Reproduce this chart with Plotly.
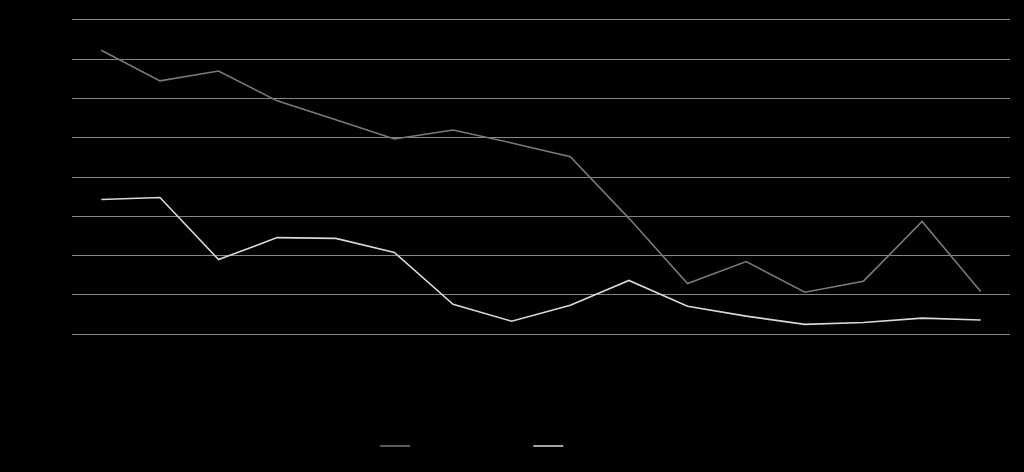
import plotly.graph_objects as go

categories = ["2000", "2001", "2002", "2003", "2004", "2005", "2006", "2007",
              "2008", "2009", "2010", "2011", "2012", "2013", "2014", "2015"]
series_a_name = "Series 1"
series_a = [7.23, 6.45, 6.70, 5.94, 5.46, 4.97, 5.20, 4.87,
            4.52, 2.95, 1.29, 1.85, 1.07, 1.35, 2.87, 1.09]
series_b_name = "Series 2"
series_b = [3.43, 3.48, 1.90, 2.46, 2.44, 2.08, 0.76, 0.33,
            0.74, 1.37, 0.71, 0.46, 0.25, 0.30, 0.41, 0.36]
y_ticks = [0, 1, 2, 3, 4, 5, 6, 7, 8]

fig = go.Figure()
fig.add_trace(go.Scatter(x=categories, y=series_a, mode="lines", name=series_a_name,
                         line=dict(color="#7a7a7a", width=1.6)))
fig.add_trace(go.Scatter(x=categories, y=series_b, mode="lines", name=series_b_name,
                         line=dict(color="#d9d9d9", width=1.6)))

fig.update_layout(
    width=1024, height=472,
    paper_bgcolor="#000000", plot_bgcolor="#000000",
    margin=dict(l=72, r=14, t=18, b=137, autoexpand=False),
    font=dict(family="Liberation Sans, Arial", size=12, color="#000000"),
    xaxis=dict(type="category", showgrid=False, zeroline=False, showline=False,
               ticks="", tickfont=dict(color="#000000"), range=[-0.5, len(categories) - 0.5]),
    yaxis=dict(range=[-0.02, 8.05], tickvals=y_ticks, showgrid=True, gridcolor="#868686",
               gridwidth=1, zeroline=True, zerolinecolor="#868686", zerolinewidth=1,
               showline=False, ticks="", tickfont=dict(color="#000000")),
    legend=dict(orientation="h", x=0.3233, xanchor="left",
                yref="container", y=0.055, yanchor="middle",
                font=dict(color="#000000", size=12), bgcolor="rgba(0,0,0,0)",
                entrywidth=108, entrywidthmode="pixels"),
    showlegend=True,
)

fig.write_html("out.html", config={"displayModeBar": False},
               post_script="document.body.style.margin='0';document.body.style.background='#000';")
